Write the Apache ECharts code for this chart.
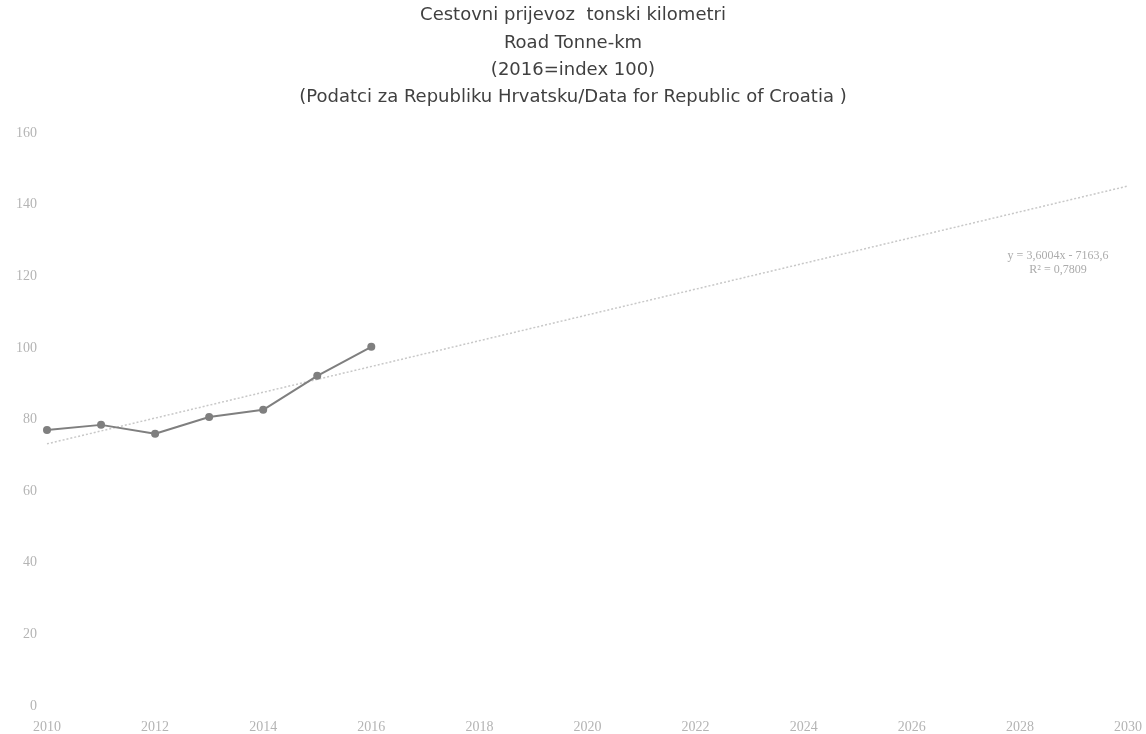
<!DOCTYPE html>
<html>
<head>
<meta charset="utf-8">
<script src="https://cdn.jsdelivr.net/npm/echarts@6/dist/echarts.min.js"></script>
<style>
html,body{margin:0;padding:0;background:#fff;}
#chart{width:1146px;height:734px;}
</style>
</head>
<body>
<div id="chart"></div>
<script>
const titleLines = [
  "Cestovni prijevoz  tonski kilometri",
  "Road Tonne-km",
  "(2016=index 100)",
  "(Podatci za Republiku Hrvatsku/Data for Republic of Croatia )"
];
const years = [2010, 2011, 2012, 2013, 2014, 2015, 2016];
const values = [77.1, 78.5, 76.0, 80.7, 82.7, 92.2, 100.3];
const trendYears = [2010, 2030];
const trendValues = [73.2, 145.2];
const trendLabel = ["y = 3,6004x - 7163,6", "R² = 0,7809"];
const xMin = 2010, xMax = 2030, xStep = 2;
const yMin = 0, yMax = 160, yStep = 20;

const chart = echarts.init(document.getElementById('chart'), null, {renderer: 'canvas'});
const tickFont = {color: '#b4b4b4', fontFamily: 'Liberation Serif', fontSize: 14};
chart.setOption({
  backgroundColor: '#ffffff',
  animation: false,
  title: {
    text: titleLines.join('\n'),
    left: 'center',
    top: 2,
    padding: 0,
    textStyle: {fontFamily: 'DejaVu Sans', fontSize: 18, fontWeight: 'normal', color: '#404040', lineHeight: 27.3}
  },
  grid: {left: 47, right: 18, top: 133, bottom: 28, containLabel: false},
  xAxis: {
    type: 'value', min: xMin, max: xMax, interval: xStep,
    axisLine: {show: false}, axisTick: {show: false}, splitLine: {show: false},
    axisLabel: Object.assign({formatter: v => String(v), margin: 14}, tickFont)
  },
  yAxis: {
    type: 'value', min: yMin, max: yMax, interval: yStep,
    axisLine: {show: false}, axisTick: {show: false}, splitLine: {show: false},
    axisLabel: Object.assign({margin: 10}, tickFont)
  },
  series: [
    {
      type: 'line',
      data: trendYears.map((y, i) => [y, trendValues[i]]),
      symbol: 'none',
      lineStyle: {color: '#c8c8c8', width: 1.5, type: [2, 2]},
      z: 1
    },
    {
      type: 'line',
      data: years.map((y, i) => [y, values[i]]),
      symbol: 'circle', symbolSize: 8,
      itemStyle: {color: '#7f7f7f'},
      lineStyle: {color: '#7f7f7f', width: 2},
      z: 2
    }
  ],
  graphic: [{
    type: 'text', x: 1058, y: 249,
    style: {text: trendLabel.join('\n'), fill: '#ababab', font: '12px "Liberation Serif"', lineHeight: 14, textAlign: 'center'}
  }]
});
</script>
</body>
</html>
